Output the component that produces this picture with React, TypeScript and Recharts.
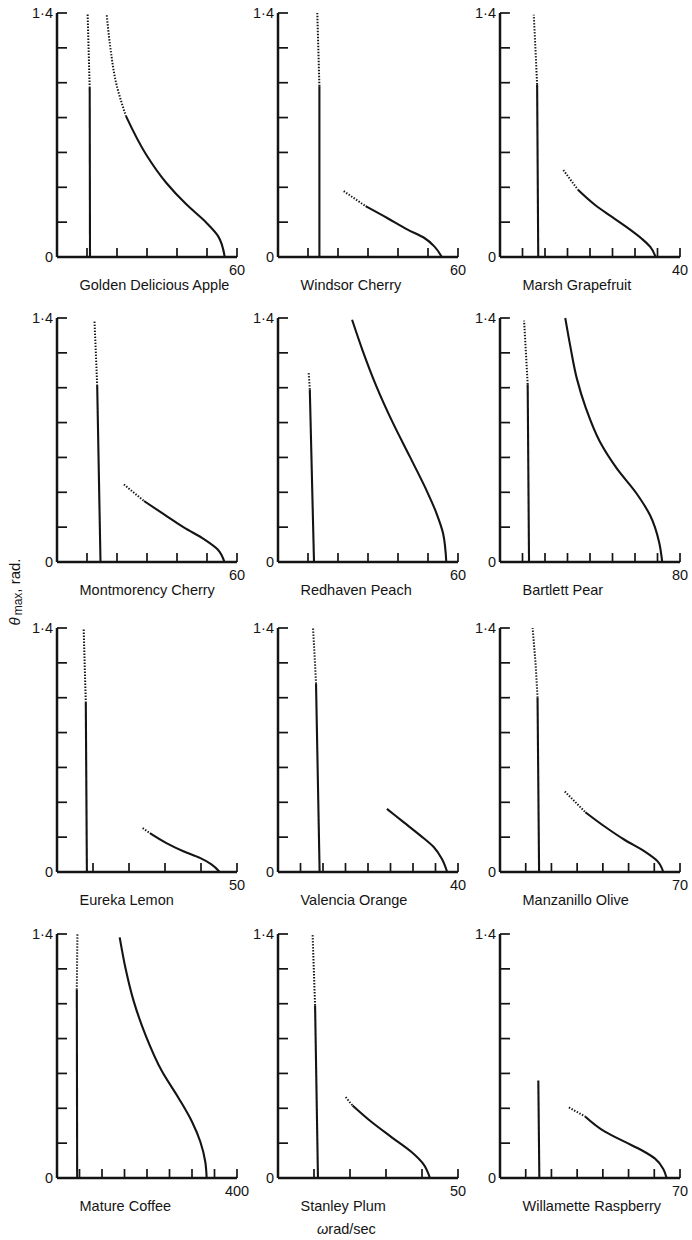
import { LineChart, Line, XAxis, YAxis } from "recharts";

type Pt = { w: number; t: number };

const titles = [
  "Golden Delicious Apple",
  "Windsor Cherry",
  "Marsh Grapefruit",
  "Montmorency Cherry",
  "Redhaven Peach",
  "Bartlett Pear",
  "Eureka Lemon",
  "Valencia Orange",
  "Manzanillo Olive",
  "Mature Coffee",
  "Stanley Plum",
  "Willamette Raspberry",
];
const xMaxes = [60, 60, 40, 60, 60, 80, 50, 40, 70, 400, 50, 70];
const xSteps = [10, 10, 5, 10, 10, 10, 10, 5, 10, 50, 10, 10];
const thetaTicks = [0, 0.2, 0.4, 0.6, 0.8, 1.0, 1.2, 1.4];

// near-vertical branch, bottom to top (w = omega, t = theta max)
const appleStem: Pt[] = [{ w: 11.0, t: 0 }, { w: 10.9, t: 0.97 }, { w: 10.2, t: 1.4 }];
const cherryStem: Pt[] = [{ w: 13.8, t: 0 }, { w: 13.8, t: 0.98 }, { w: 13.1, t: 1.4 }];
const grapefruitStem: Pt[] = [{ w: 8.5, t: 0 }, { w: 8.25, t: 0.99 }, { w: 7.5, t: 1.39 }];
const montmorencyStem: Pt[] = [{ w: 14.5, t: 0 }, { w: 13.4, t: 1.01 }, { w: 12.5, t: 1.38 }];
const peachStem: Pt[] = [{ w: 12.0, t: 0 }, { w: 10.6, t: 0.99 }, { w: 10.2, t: 1.09 }];
const pearStem: Pt[] = [{ w: 12.9, t: 0 }, { w: 12.3, t: 1.02 }, { w: 10.7, t: 1.385 }];
const lemonStem: Pt[] = [{ w: 8.3, t: 0 }, { w: 8.0, t: 0.97 }, { w: 7.4, t: 1.4 }];
const orangeStem: Pt[] = [{ w: 9.25, t: 0 }, { w: 8.45, t: 1.08 }, { w: 7.8, t: 1.4 }];
const oliveStem: Pt[] = [{ w: 15.2, t: 0 }, { w: 14.6, t: 1.0 }, { w: 13.8, t: 1.2 }, { w: 12.7, t: 1.4 }];
const coffeeStem: Pt[] = [{ w: 44.8, t: 0 }, { w: 44.0, t: 1.08 }, { w: 45.5, t: 1.4 }];
const plumStem: Pt[] = [{ w: 11.1, t: 0 }, { w: 10.3, t: 0.99 }, { w: 9.6, t: 1.4 }];
const raspberryStem: Pt[] = [{ w: 15.3, t: 0 }, { w: 14.9, t: 0.56 }];
// theta where the stem turns from solid to dotted
const stemCuts = [0.97, 0.98, 0.99, 1.01, 0.99, 1.02, 0.97, 1.08, 1.0, 1.08, 0.99, 0.56];

// falling branch, left (top) to right (bottom)
const appleCurve: Pt[] = [
  { w: 16.6, t: 1.387 }, { w: 17.8, t: 1.199 }, { w: 19.7, t: 0.999 }, { w: 23.0, t: 0.808 },
  { w: 29.7, t: 0.588 }, { w: 36.4, t: 0.426 }, { w: 43.1, t: 0.302 }, { w: 49.8, t: 0.197 },
  { w: 53.7, t: 0.12 }, { w: 55.9, t: 0 },
];
const cherryCurve: Pt[] = [
  { w: 21.9, t: 0.378 }, { w: 29.2, t: 0.292 }, { w: 36.4, t: 0.224 }, { w: 43.2, t: 0.157 },
  { w: 48.8, t: 0.109 }, { w: 52.1, t: 0.061 }, { w: 54.6, t: 0 },
];
const grapefruitCurve: Pt[] = [
  { w: 14.07, t: 0.499 }, { w: 17.38, t: 0.384 }, { w: 21.2, t: 0.297 }, { w: 24.9, t: 0.23 },
  { w: 28.6, t: 0.163 }, { w: 31.5, t: 0.105 }, { w: 33.4, t: 0.058 }, { w: 34.6, t: 0 },
];
const montmorencyCurve: Pt[] = [
  { w: 22.3, t: 0.445 }, { w: 29.0, t: 0.35 }, { w: 35.7, t: 0.273 }, { w: 42.4, t: 0.197 },
  { w: 49.1, t: 0.13 }, { w: 53.5, t: 0.073 }, { w: 55.8, t: 0 },
];
const peachCurve: Pt[] = [
  { w: 24.7, t: 1.39 }, { w: 28.3, t: 1.209 }, { w: 32.8, t: 1.008 }, { w: 38.3, t: 0.798 },
  { w: 43.9, t: 0.606 }, { w: 49.4, t: 0.415 }, { w: 52.8, t: 0.281 }, { w: 55.0, t: 0.166 },
  { w: 56.1, t: 0 },
];
const pearCurve: Pt[] = [
  { w: 29.0, t: 1.4 }, { w: 31.4, t: 1.227 }, { w: 34.1, t: 1.055 }, { w: 38.2, t: 0.882 },
  { w: 44.4, t: 0.69 }, { w: 51.9, t: 0.537 }, { w: 60.7, t: 0.393 }, { w: 66.7, t: 0.268 },
  { w: 70.7, t: 0.115 }, { w: 72.1, t: 0 },
];
const lemonCurve: Pt[] = [
  { w: 23.8, t: 0.252 }, { w: 25.8, t: 0.223 }, { w: 30.4, t: 0.166 }, { w: 35.1, t: 0.119 },
  { w: 39.7, t: 0.081 }, { w: 42.9, t: 0.044 }, { w: 45.2, t: 0 },
];
const orangeCurve: Pt[] = [
  { w: 24.2, t: 0.362 }, { w: 27.9, t: 0.286 }, { w: 31.6, t: 0.21 }, { w: 34.6, t: 0.143 },
  { w: 36.4, t: 0.076 }, { w: 37.6, t: 0 },
];
const oliveCurve: Pt[] = [
  { w: 25.2, t: 0.462 }, { w: 33.2, t: 0.343 }, { w: 40.7, t: 0.261 }, { w: 48.4, t: 0.185 },
  { w: 56.2, t: 0.118 }, { w: 61.3, t: 0.061 }, { w: 63.5, t: 0 },
];
const coffeeCurve: Pt[] = [
  { w: 139.3, t: 1.381 }, { w: 151.9, t: 1.208 }, { w: 170.4, t: 1.015 }, { w: 196.3, t: 0.823 },
  { w: 233.3, t: 0.612 }, { w: 270.4, t: 0.458 }, { w: 300.0, t: 0.323 }, { w: 318.5, t: 0.208 },
  { w: 329.6, t: 0.092 }, { w: 332.6, t: 0 },
];
const plumCurve: Pt[] = [
  { w: 18.8, t: 0.464 }, { w: 20.7, t: 0.416 }, { w: 26.0, t: 0.321 }, { w: 31.5, t: 0.235 },
  { w: 37.1, t: 0.149 }, { w: 40.3, t: 0.082 }, { w: 42.2, t: 0 },
];
const raspberryCurve: Pt[] = [
  { w: 26.8, t: 0.405 }, { w: 33.1, t: 0.353 }, { w: 40.8, t: 0.266 }, { w: 48.6, t: 0.207 },
  { w: 55.1, t: 0.159 }, { w: 60.3, t: 0.111 }, { w: 63.5, t: 0.052 }, { w: 64.8, t: 0 },
];
// theta above which the falling branch is dotted
const curveCuts = [0.808, 0.292, 0.384, 0.35, 1.39, 1.4, 0.223, 0.362, 0.343, 1.381, 0.416, 0.353];

const stems = [appleStem, cherryStem, grapefruitStem, montmorencyStem, peachStem, pearStem, lemonStem, orangeStem, oliveStem, coffeeStem, plumStem, raspberryStem];
const curves = [appleCurve, cherryCurve, grapefruitCurve, montmorencyCurve, peachCurve, pearCurve, lemonCurve, orangeCurve, oliveCurve, coffeeCurve, plumCurve, raspberryCurve];

const INK = "#141414";
const FONT = "'Liberation Sans', Arial, sans-serif";
const PLOT_W = 180;
const PLOT_H = 244;
const colLeft = [56.5, 277.5, 499.5];
const rowTop = [13, 318, 628, 934];

const solidPart = (pts: Pt[], cut: number) => pts.filter((p) => p.t <= cut + 1e-9);
const dottedPart = (pts: Pt[], cut: number) => pts.filter((p) => p.t >= cut - 1e-9);

const XTick = (props: any) => {
  const { x, y, payload, xMax } = props;
  if (payload.value === 0) return <g />;
  return (
    <g>
      <line x1={x} y1={y} x2={x} y2={y - 9} stroke={INK} strokeWidth={1.7} />
      {payload.value === xMax && (
        <text x={x} y={y + 13} textAnchor="middle" dominantBaseline="central" fill={INK} fontSize={14.5} fontFamily={FONT}>
          {xMax}
        </text>
      )}
    </g>
  );
};

const YTick = (props: any) => {
  const { x, y, payload } = props;
  const v = payload.value;
  const label = v === 0 ? "0" : v === 1.4 ? "1·4" : null;
  return (
    <g>
      {v !== 0 && <line x1={x} y1={y} x2={x + 10} y2={y} stroke={INK} strokeWidth={1.7} />}
      {label && (
        <text x={x - 4} y={y} textAnchor="end" dominantBaseline="central" fill={INK} fontSize={14.5} fontFamily={FONT}>
          {label}
        </text>
      )}
    </g>
  );
};

function Panel({ i }: { i: number }) {
  const row = Math.floor(i / 3);
  const col = i % 3;
  const xMax = xMaxes[i];
  const step = xSteps[i];
  const xTicks = Array.from({ length: xMax / step + 1 }, (_, k) => k * step);
  const left = colLeft[col];
  const top = rowTop[row];

  const stemSolid = solidPart(stems[i], stemCuts[i]);
  const stemDots = dottedPart(stems[i], stemCuts[i]);
  const curveSolid = solidPart(curves[i], curveCuts[i]);
  const curveDots = dottedPart(curves[i], curveCuts[i]);

  const solid = { stroke: INK, strokeWidth: 2.1, dot: false as const, isAnimationActive: false, dataKey: "t" };
  const dotted = { ...solid, strokeWidth: 2, strokeDasharray: "1.4 1.6" };

  return (
    <>
      <div style={{ position: "absolute", left: left - 40, top: top - 10 }}>
        <LineChart width={PLOT_W + 62} height={PLOT_H + 50} margin={{ top: 10, right: 22, left: 10, bottom: 10 }}>
          <XAxis
            type="number"
            dataKey="w"
            domain={[0, xMax]}
            ticks={xTicks}
            interval={0}
            height={30}
            tickSize={0}
            tickMargin={0}
            tickLine={false}
            axisLine={{ stroke: INK, strokeWidth: 2.5 }}
            tick={(p: any) => <XTick {...p} xMax={xMax} />}
          />
          <YAxis
            type="number"
            domain={[0, 1.4]}
            ticks={thetaTicks}
            interval={0}
            width={30}
            tickSize={0}
            tickMargin={0}
            tickLine={false}
            axisLine={{ stroke: INK, strokeWidth: 2.5 }}
            tick={(p: any) => <YTick {...p} />}
          />
          <Line {...solid} data={stemSolid} type="linear" />
          {stemDots.length > 1 && <Line {...dotted} data={stemDots} type="linear" />}
          <Line {...solid} data={curveSolid} type="monotoneY" />
          {curveDots.length > 1 && <Line {...dotted} data={curveDots} type="monotoneY" />}
        </LineChart>
      </div>
      <div
        style={{
          position: "absolute",
          left: left + 23,
          top: top + PLOT_H + 20,
          fontFamily: FONT,
          fontSize: 14.5,
          lineHeight: "16px",
          color: INK,
          whiteSpace: "nowrap",
        }}
      >
        {titles[i]}
      </div>
    </>
  );
}

export default function App() {
  return (
    <div style={{ position: "absolute", left: 0, top: 0, width: 692, height: 1240, background: "#fff" }}>
      {titles.map((_, i) => (
        <Panel key={i} i={i} />
      ))}
      <svg style={{ position: "absolute", left: 0, top: 530 }} width={30} height={124}>
        <text
          x={14}
          y={62}
          transform="rotate(-90 14 62)"
          textAnchor="middle"
          dominantBaseline="central"
          fill={INK}
          fontFamily={FONT}
          fontSize={15}
        >
          <tspan fontStyle="italic">θ</tspan>
          <tspan dx={2} dy={4} fontSize={12}>max</tspan>
          <tspan dy={-4}>, rad.</tspan>
        </text>
      </svg>
      <div
        style={{
          position: "absolute",
          left: 317,
          top: 1221,
          fontFamily: FONT,
          fontSize: 14.5,
          lineHeight: "16px",
          color: INK,
          whiteSpace: "nowrap",
        }}
      >
        <i>ω</i>rad/sec
      </div>
    </div>
  );
}
